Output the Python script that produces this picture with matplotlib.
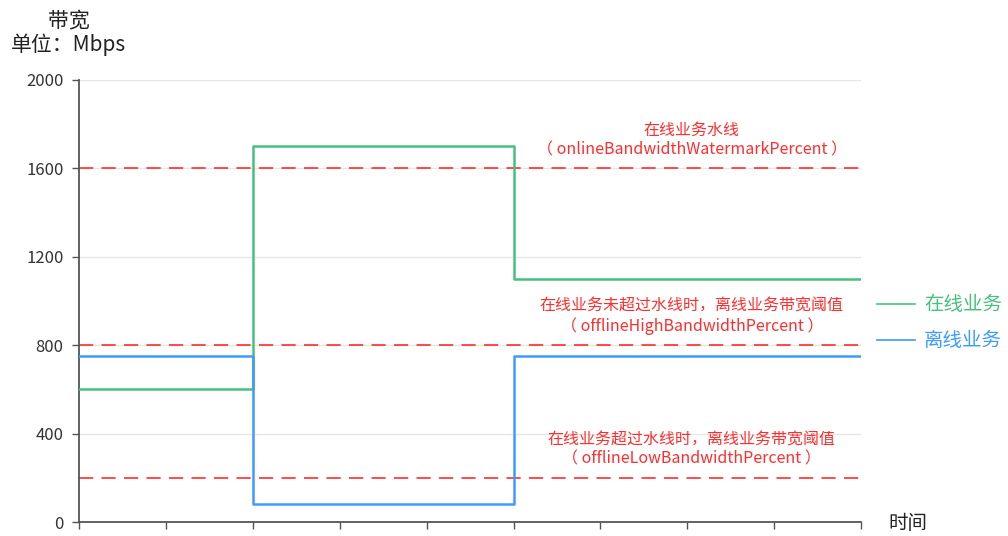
import matplotlib
matplotlib.use("Agg")
import matplotlib.pyplot as plt
from matplotlib.lines import Line2D

plt.rcParams['font.family'] = ['Noto Sans CJK SC', 'DejaVu Sans']

# --- Datos ---
tiempo = [0, 2, 5, 9]
online = [600, 1700, 1100, 1100]
offline = [750, 80, 750, 750]
umbrales = [1600, 800, 200]
umbral_textos = [
    "在线业务水线\n（ onlineBandwidthWatermarkPercent ）",
    "在线业务未超过水线时，离线业务带宽阈值\n（ offlineHighBandwidthPercent ）",
    "在线业务超过水线时，离线业务带宽阈值\n（ offlineLowBandwidthPercent ）",
]
yticks = [0, 400, 800, 1200, 1600, 2000]
series_nombres = ['在线业务', '离线业务']

verde = '#47c07f'
azul = '#3d9bff'
rojo = '#ff2d2d'

fig = plt.figure(figsize=(10.08, 5.36), dpi=100)
ax = fig.add_axes([0.0784, 0.026, 0.776, 0.825])

for y in yticks[1:]:
    ax.axhline(y, color='#e6e6e6', lw=1, zorder=0)

ax.step(tiempo, online, where='post', color=verde, lw=1.8, zorder=3)
ax.step(tiempo, offline, where='post', color=azul, lw=1.8, zorder=3)

for y, txt in zip(umbrales, umbral_textos):
    ax.axhline(y, color=rojo, lw=1.2, dashes=(8.5, 5), zorder=2)
    ax.text(7.05, y + 45, txt, color=rojo, fontsize=11.5, ha='center', va='bottom',
            linespacing=1.2)

ax.set_xlim(0, 9)
ax.set_ylim(0, 2000)
ax.set_xticks(range(10))
ax.set_xticklabels([])
ax.set_yticks(yticks)
ax.set_yticklabels([str(v) for v in yticks], fontsize=12)
for s in ['top', 'right']:
    ax.spines[s].set_visible(False)
for s in ['left', 'bottom']:
    ax.spines[s].set_color('#555555')
    ax.spines[s].set_linewidth(1.3)
ax.tick_params(axis='both', colors='#555555', length=5, width=1)
ax.tick_params(axis='y', labelcolor='#333333', pad=6)

# Leyenda a la derecha
for nombre, color, ypx in zip(series_nombres, [verde, azul], [304, 340]):
    yf = 1 - ypx / 536
    fig.add_artist(Line2D([877 / 1008, 915 / 1008], [yf, yf], color=color, lw=1.2))
    fig.text(924 / 1008, yf, nombre, color=color, fontsize=14, va='center', ha='left')

# Etiquetas de ejes
fig.text(69 / 1008, 1 - 20 / 536, '带宽', fontsize=15, ha='center', va='center', color='#222222')
fig.text(68 / 1008, 1 - 45 / 536, '单位：Mbps', fontsize=15, ha='center', va='center', color='#222222')
fig.text(908 / 1008, 2 / 536, '时间', fontsize=14, ha='center', va='bottom', color='#222222')

plt.savefig('out.png', dpi=100)
